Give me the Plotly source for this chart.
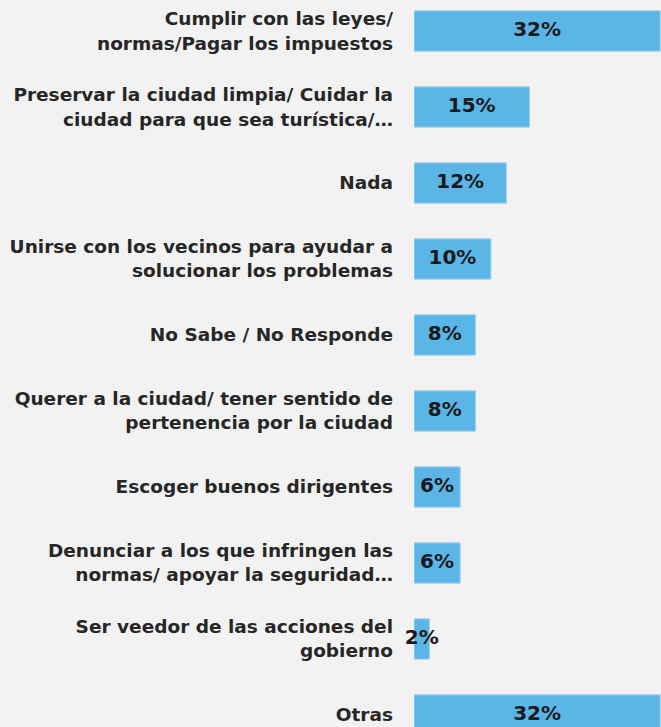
import plotly.graph_objects as go

categories = [
    "Cumplir con las leyes/<br>normas/Pagar los impuestos",
    "Preservar la ciudad limpia/ Cuidar la<br>ciudad para que sea turística/…",
    "Nada",
    "Unirse con los vecinos para ayudar a<br>solucionar los problemas",
    "No Sabe / No Responde",
    "Querer a la ciudad/ tener sentido de<br>pertenencia por la ciudad",
    "Escoger buenos dirigentes",
    "Denunciar a los que infringen las<br>normas/ apoyar la seguridad…",
    "Ser veedor de las acciones del<br>gobierno",
    "Otras",
]
values = [32, 15, 12, 10, 8, 8, 6, 6, 2, 32]
value_labels = [f"{v}%" for v in values]

fig = go.Figure()
fig.add_trace(go.Bar(
    x=values, y=categories, orientation="h",
    marker=dict(color="#5bb5e6", line=dict(color="#9fd2f0", width=1)),
    width=0.53, hoverinfo="skip",
))
fig.add_trace(go.Scatter(
    x=[v / 2 for v in values], y=categories, mode="text",
    text=value_labels, textposition="middle center", cliponaxis=False,
    textfont=dict(family="DejaVu Sans", size=20, color="#1a1a1a", weight="bold"),
    hoverinfo="skip",
))

fig.update_layout(
    width=661, height=727,
    margin=dict(l=414, r=0, t=0, b=0),
    paper_bgcolor="#f2f2f2", plot_bgcolor="#f2f2f2",
    showlegend=False,
    font=dict(family="DejaVu Sans", color="#262626"),
)
fig.update_xaxes(visible=False, range=[0, 32.1], fixedrange=True)
fig.update_yaxes(
    type="category", categoryorder="array", categoryarray=categories,
    range=[9.158, -0.408], showgrid=False, zeroline=False, showline=False,
    ticks="", ticklabelstandoff=20, fixedrange=True,
    tickfont=dict(family="DejaVu Sans", size=18.5, color="#262626", weight="bold"),
)

fig.write_html(
    "out.html",
    config={"displayModeBar": False, "staticPlot": True},
    post_script="document.body.style.margin='0';document.body.style.background='#f2f2f2';",
)
